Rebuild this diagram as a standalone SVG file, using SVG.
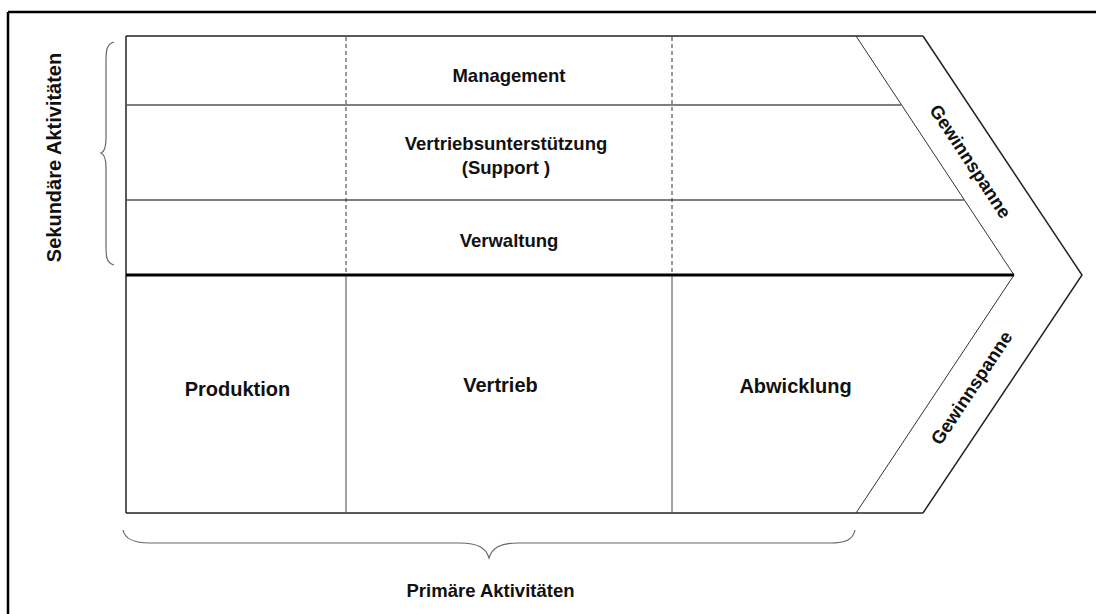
<svg xmlns="http://www.w3.org/2000/svg" width="1096" height="614" viewBox="0 0 1096 614">
<style>
text{font-family:"Liberation Sans",Arial,sans-serif;font-weight:bold;fill:#111;text-anchor:middle}
.t18{font-size:18.5px}
.t20{font-size:20px}
.sep{stroke:#555;stroke-width:1.5;fill:none}
.dash{stroke:#333;stroke-width:1;stroke-dasharray:4 3;fill:none}
.vline{stroke:#444;stroke-width:1;fill:none}
.edge{stroke:#222;stroke-width:1.5;fill:none}
.thin{stroke:#333;stroke-width:1;fill:none}
.brace{stroke:#666;stroke-width:1.2;fill:none}
</style>
<rect x="0" y="0" width="1096" height="614" fill="#fff"/>
<g id="frame">
<line x1="8" y1="12" x2="1096" y2="12" stroke="#000" stroke-width="2.5"/>
<line x1="8" y1="12" x2="8" y2="614" stroke="#000" stroke-width="2.5"/>
</g>
<g id="connectors">
<line class="edge" x1="126" y1="36" x2="126" y2="513"/>
<line class="edge" x1="126" y1="36" x2="923" y2="36"/>
<line class="edge" x1="126" y1="513" x2="923" y2="513"/>
<polyline class="edge" points="923,36 1082,275 923,513"/>
<polyline class="thin" points="856,36 1014,275 856,513"/>
<line class="sep" x1="126" y1="105" x2="901" y2="105"/>
<line class="sep" x1="126" y1="200" x2="964" y2="200"/>
<line x1="126" y1="275" x2="1014" y2="275" stroke="#000" stroke-width="3"/>
<line class="dash" x1="346" y1="37" x2="346" y2="274"/>
<line class="dash" x1="672" y1="37" x2="672" y2="274"/>
<line class="vline" x1="346" y1="276" x2="346" y2="512"/>
<line class="vline" x1="672" y1="276" x2="672" y2="512"/>
<path class="brace" d="M114,42 C106,44 106,52 106,62 L106,138 C106,148 104,152 101,153 C104,154 106,158 106,168 L106,245 C106,256 106,263 114,265"/>
<path class="brace" d="M123,530 C125,540 135,543 150,543 L460,543 C478,543 486,548 489,558 C492,548 500,543 518,543 L830,543 C845,543 853,540 855,530"/>
</g>
<g id="management"><text class="t18" x="509" y="82">Management</text></g>
<g id="support"><text class="t18" x="506" y="150">Vertriebsunterstützung</text><text class="t18" x="506" y="174">(Support )</text></g>
<g id="verwaltung"><text class="t18" x="509" y="247">Verwaltung</text></g>
<g id="produktion"><text class="t20" x="237.5" y="396">Produktion</text></g>
<g id="vertrieb"><text class="t20" x="500.5" y="392">Vertrieb</text></g>
<g id="abwicklung"><text class="t20" x="795.5" y="393">Abwicklung</text></g>
<g id="gewinn-oben"><text class="t18" transform="translate(971,161) rotate(56.5)" x="0" y="7">Gewinnspanne</text></g>
<g id="gewinn-unten"><text class="t18" transform="translate(971,387.5) rotate(-56.5)" x="0" y="7">Gewinnspanne</text></g>
<g id="sekundaer"><text class="t20" transform="translate(54,157.5) rotate(-90)" x="0" y="7">Sekundäre Aktivitäten</text></g>
<g id="primaer"><text class="t18" x="490.5" y="597">Primäre Aktivitäten</text></g>
</svg>
